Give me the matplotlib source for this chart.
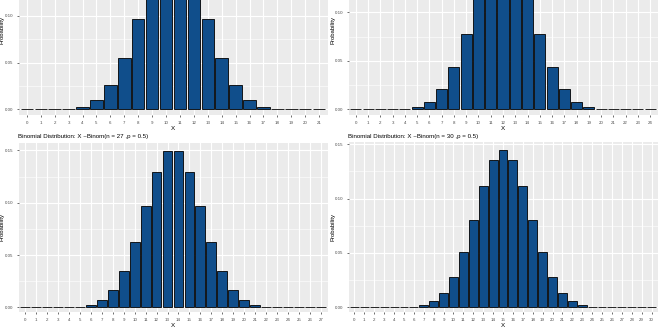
import matplotlib.pyplot as plt
import numpy as np

# probabilidades (Binom(n, 0.5))
x21 = list(range(22))
p21 = [0.0000005, 0.00001, 0.0001, 0.00063, 0.00285, 0.00970, 0.02588, 0.05545,
       0.09703, 0.14016, 0.16819, 0.16819, 0.14016, 0.09703, 0.05545, 0.02588,
       0.00970, 0.00285, 0.00063, 0.0001, 0.00001, 0.0000005]

x24 = list(range(25))
p24 = [0.0000001, 0.0000014, 0.000016, 0.00012, 0.00063, 0.00253, 0.00802, 0.02063,
       0.04384, 0.07793, 0.11690, 0.14878, 0.16118, 0.14878, 0.11690, 0.07793,
       0.04384, 0.02063, 0.00802, 0.00253, 0.00063, 0.00012, 0.000016, 0.0000014,
       0.0000001]

x27 = list(range(28))
p27 = [0.0, 0.0000002, 0.0000026, 0.000022, 0.00013, 0.00060, 0.00221, 0.00662,
       0.01654, 0.03492, 0.06286, 0.09714, 0.12952, 0.14945, 0.14945, 0.12952,
       0.09714, 0.06286, 0.03492, 0.01654, 0.00662, 0.00221, 0.00060, 0.00013,
       0.000022, 0.0000026, 0.0000002, 0.0]

x30 = list(range(31))
p30 = [0.0, 0.0, 0.0000004, 0.0000038, 0.000026, 0.00013, 0.00055, 0.00190,
       0.00545, 0.01332, 0.02798, 0.05088, 0.08055, 0.11154, 0.13544, 0.14446,
       0.13544, 0.11154, 0.08055, 0.05088, 0.02798, 0.01332, 0.00545, 0.00190,
       0.00055, 0.00013, 0.000026, 0.0000038, 0.0000004, 0.0, 0.0]

# los titulos de la fila de arriba quedan fuera del recorte
titles = [None,
          None,
          "Binomial Distribution: X ~Binom(n = 27 ,p = 0.5)",
          "Binomial Distribution: X ~Binom(n = 30 ,p = 0.5)"]

yticks_arriba = [0.0, 0.05, 0.10]
yticks_abajo = [0.0, 0.05, 0.10, 0.15]

plt.rcParams['font.family'] = ['Liberation Sans', 'DejaVu Sans']

W, H = 660, 330
fig = plt.figure(figsize=(6.6, 3.3), dpi=100)
fig.patch.set_facecolor('white')

# (x izq, x der, y arriba, y abajo) en pixeles, ylim
paneles = [
    (x21, p21, titles[0], (18.5, 327.5, -55, 115), (-0.0061, 0.1759), yticks_arriba),
    (x24, p24, titles[1], (348.5, 657.5, -55, 115), (-0.0059, 0.1694), yticks_arriba),
    (x27, p27, titles[2], (18.5, 327.5, 142.7, 312), (-0.0045, 0.1574), yticks_abajo),
    (x30, p30, titles[3], (348.5, 657.5, 142.4, 312), (-0.0043, 0.1517), yticks_abajo),
]

for xs, ps, titulo, (l, r, t, b), ylim, yt in paneles:
    ax = fig.add_axes([l / W, 1 - b / H, (r - l) / W, (b - t) / H])
    ax.set_facecolor('#EBEBEB')
    ax.bar(xs, ps, width=0.9, color='#104E8B', edgecolor='black', linewidth=0.6, zorder=3)
    ax.set_xlim(-0.6, len(xs) - 0.4)
    ax.set_ylim(*ylim)
    ax.set_xticks(xs)
    ax.set_xticklabels([str(v) for v in xs])
    ax.set_yticks(yt)
    ax.set_yticklabels(["%.2f" % v for v in yt])
    ax.set_yticks([0.025, 0.075, 0.125], minor=True)
    ax.grid(which='major', color='white', linewidth=0.8, zorder=0)
    ax.grid(which='minor', axis='y', color='white', linewidth=0.4, zorder=0)
    if len(yt) == 3:
        ax.axhline(0.15, color='white', linewidth=0.8, zorder=0)
    ax.tick_params(which='major', length=1.5, width=0.5, color='#333333',
                   labelsize=3.2, labelcolor='#4D4D4D', pad=2.5)
    ax.tick_params(which='minor', length=0)
    for s in ax.spines.values():
        s.set_visible(False)
    ax.set_axisbelow(True)
    ax.set_xlabel("X", fontsize=4.5, labelpad=1)
    ax.set_ylabel("Probability", fontsize=4.3)
    xc = (l - 13.5) / W
    ax.yaxis.set_label_coords(xc, 1 - (t + b) / 2 / H, transform=fig.transFigure)
    if titulo:
        ax.set_title(titulo, fontsize=4.4, loc='left', pad=3.5, x=0)

fig.savefig("out.png", dpi=100)
